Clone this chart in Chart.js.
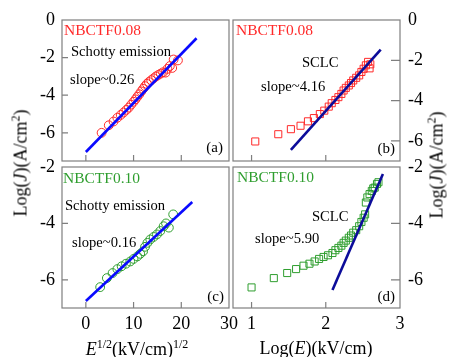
<!DOCTYPE html>
<html>
<head>
<meta charset="utf-8">
<script src="https://cdn.jsdelivr.net/npm/chart.js@4.4.0/dist/chart.umd.min.js"></script>
<style>
  body { margin: 0; background: #fff; }
  #wrap { position: relative; width: 449px; height: 357px; font-family: "Liberation Serif", serif; color: #000; }
  #wrap canvas { position: absolute; left: 0; top: 0; }
  .ttl { position: absolute; white-space: nowrap; font-size: 18px; transform: translate(-50%, -50%); }
  .rot { transform: translate(-50%, -50%) rotate(-90deg); }
  .ttl sup { font-size: 12px; vertical-align: 7px; line-height: 0; }
</style>
</head>
<body>
<div id="wrap">
  <canvas id="panelA" width="449" height="357"></canvas>
  <canvas id="panelB" width="449" height="357"></canvas>
  <canvas id="panelC" width="449" height="357"></canvas>
  <canvas id="panelD" width="449" height="357"></canvas>
  <div class="ttl rot" style="left:21px;top:163px">Log(<i>J</i>)(A/cm<sup>2</sup>)</div>
  <div class="ttl rot" style="left:437px;top:165px">Log(<i>J</i>)(A/cm<sup>2</sup>)</div>
  <div class="ttl" style="left:137px;top:349px"><i>E</i><sup>1/2</sup>(kV/cm)<sup>1/2</sup></div>
  <div class="ttl" style="left:316px;top:348px">Log(<i>E</i>)(kV/cm)</div>
</div>
<script>
// x = 0.08, Schottky plot: log J against E^1/2
const sqrtE08 = [3.3, 4.8, 5.8, 6.6, 7.3, 7.9, 8.5, 9.0, 9.5, 10.0, 10.4, 10.8, 11.2, 11.6, 12.0,
                 12.4, 12.8, 13.2, 13.7, 14.2, 14.7, 15.2, 15.7, 16.2, 16.7, 17.1, 17.6, 18.1, 18.4, 19.3];
const logJ08a = [-6.0, -5.6, -5.4, -5.2, -5.05, -4.92, -4.78, -4.66, -4.5, -4.35, -4.22, -4.08, -3.95, -3.8, -3.66,
                 -3.52, -3.4, -3.3, -3.2, -3.1, -3.0, -2.92, -2.85, -2.78, -2.8, -2.6, -2.45, -2.55, -2.1, -2.15];
const fit08aX = [0, 23.2];
const fit08aY = [-7.02, -0.97];

// x = 0.08, SCLC plot: log J against log E
const logE08 = [1.05, 1.36, 1.53, 1.66, 1.76, 1.84, 1.92, 1.98, 2.04, 2.08, 2.13, 2.17, 2.21,
                2.24, 2.27, 2.31, 2.34, 2.37, 2.41, 2.45, 2.48, 2.51, 2.54, 2.57, 2.59, 2.60];
const logJ08b = [-6.03, -5.67, -5.42, -5.25, -5.03, -4.87, -4.67, -4.5, -4.3, -4.13, -3.97, -3.83, -3.67,
                 -3.5, -3.37, -3.25, -3.13, -3.0, -2.87, -2.75, -2.58, -2.42, -2.25, -2.08, -2.4, -2.2];
const fit08bX = [1.53, 2.74];
const fit08bY = [-6.45, -1.47];

// x = 0.10, Schottky plot
const sqrtE10 = [3.0, 4.4, 5.6, 6.6, 7.5, 8.4, 9.3, 10.0, 10.8, 11.4, 12.0, 12.4, 12.9, 13.5, 14.2,
                 14.9, 15.6, 16.3, 16.8, 17.4, 18.3];
const logJ10c = [-6.26, -5.94, -5.76, -5.62, -5.52, -5.43, -5.35, -5.26, -5.17, -5.08, -4.99, -4.83, -4.69, -4.57, -4.48,
                 -4.39, -4.27, -4.1, -4.0, -4.15, -3.68];
const fit10cX = [0, 22.3];
const fit10cY = [-6.75, -3.24];

// x = 0.10, SCLC plot
const logE10 = [1.0, 1.30, 1.48, 1.60, 1.70, 1.78, 1.85, 1.91, 1.97, 2.03, 2.09, 2.13, 2.17, 2.21, 2.24, 2.27,
                2.31, 2.34, 2.37, 2.41, 2.45, 2.48, 2.51, 2.53, 2.54, 2.56, 2.59, 2.62, 2.64, 2.66, 2.69, 2.71];
const logJ10d = [-6.27, -5.94, -5.76, -5.62, -5.5, -5.43, -5.35, -5.26, -5.19, -5.13, -5.05, -4.95, -4.87, -4.79, -4.69, -4.61,
                 -4.51, -4.43, -4.33, -4.24, -4.1, -3.95, -3.8, -3.68, -3.26, -3.08, -2.96, -2.85, -2.76, -2.73, -2.6, -2.54];
const fit10dX = [2.09, 2.77];
const fit10dY = [-6.36, -2.25];

// axis ticks
const ticksSqrtE = [0, 10, 20, 30];
const ticksLogE = [1, 2, 3];
const ticksLogJTop = [0, -2, -4, -6];
const ticksLogJBottom = [-2, -4, -6];

const SERIF = '"Liberation Serif", "Times New Roman", serif';
const RED = '#ff2a2a';
const GREEN = '#2f9e2f';
const FRAME = '#7f7f7f';

// room kept for the tick labels next to each plot box
const Y_BOX = 55;
const X_BOX = 30;

function pts(xs, ys) {
    return xs.map((x, i) => ({ x: x, y: ys[i] }));
}

function makePanel(id, p) {
    const area = p.area;
    const tickFont = { family: SERIF, size: 18 };
    const xBox = p.showX ? X_BOX : 0;
    const pad = {
        left: p.ySide === 'left' ? area.l - Y_BOX : area.l,
        right: p.ySide === 'right' ? 449 - area.r - Y_BOX : 449 - area.r,
        top: area.t,
        bottom: 357 - area.b - xBox
    };

    // box around the plot plus short inward tick marks, and the text notes
    const decor = {
        id: 'decor_' + id,
        beforeDatasetsDraw(chart) {
            const { ctx, chartArea: a, scales } = chart;
            ctx.save();
            ctx.strokeStyle = FRAME;
            ctx.lineWidth = 1.2;
            ctx.strokeRect(a.left, a.top, a.width, a.height);
            ctx.beginPath();
            p.xTicks.forEach(v => {
                const px = scales.x.getPixelForValue(v);
                if (px > a.left + 1 && px < a.right - 1) {
                    ctx.moveTo(px, a.bottom);
                    ctx.lineTo(px, a.bottom - 6);
                }
            });
            p.yTicks.forEach(v => {
                const py = scales.y.getPixelForValue(v);
                if (py < a.top + 1 || py > a.bottom - 1) return;
                if (p.ySide === 'left') {
                    ctx.moveTo(a.left, py);
                    ctx.lineTo(a.left + 6, py);
                } else {
                    ctx.moveTo(a.right, py);
                    ctx.lineTo(a.right - 9, py);
                }
            });
            ctx.stroke();
            ctx.restore();
        },
        afterDraw(chart) {
            const { ctx, chartArea: a } = chart;
            ctx.save();
            ctx.textBaseline = 'middle';
            p.notes.forEach(n => {
                ctx.font = n.size + 'px ' + SERIF;
                ctx.fillStyle = n.color || '#000';
                ctx.textAlign = n.align || 'left';
                ctx.fillText(n.text, a.left + n.dx, a.top + n.dy);
            });
            ctx.restore();
        }
    };

    return new Chart(document.getElementById(id), {
        type: 'scatter',
        data: {
            datasets: [
                {
                    data: pts(p.fitX, p.fitY),
                    showLine: true,
                    borderColor: p.lineColor,
                    borderWidth: 2.6,
                    pointRadius: 0
                },
                {
                    data: pts(p.xs, p.ys),
                    pointStyle: p.marker,
                    pointRadius: p.marker === 'rect' ? 5 : 4.4,
                    borderWidth: 1,
                    borderColor: p.markerColor,
                    backgroundColor: 'rgba(0,0,0,0)'
                }
            ]
        },
        options: {
            responsive: false,
            animation: false,
            devicePixelRatio: 1,
            events: [],
            layout: { padding: pad },
            plugins: { legend: { display: false }, tooltip: { enabled: false } },
            scales: {
                x: {
                    type: 'linear',
                    min: p.xMin,
                    max: p.xMax,
                    grid: { display: false, drawTicks: false },
                    border: { display: false },
                    ticks: {
                        display: p.showX,
                        autoSkip: false,
                        maxRotation: 0,
                        padding: 5,
                        color: '#000',
                        font: tickFont,
                        callback: v => String(v)
                    },
                    afterBuildTicks: s => { s.ticks = p.xTicks.map(v => ({ value: v })); },
                    afterFit: s => { s.height = xBox; }
                },
                y: {
                    type: 'linear',
                    position: p.ySide,
                    min: p.yMin,
                    max: p.yMax,
                    grid: { display: false, drawTicks: false },
                    border: { display: false },
                    ticks: {
                        autoSkip: false,
                        padding: p.ySide === 'left' ? 7 : 8,
                        color: '#000',
                        font: tickFont,
                        callback: v => String(v)
                    },
                    afterBuildTicks: s => { s.ticks = p.yTicks.map(v => ({ value: v })); },
                    afterFit: s => { s.width = Y_BOX; }
                }
            }
        },
        plugins: [decor]
    });
}

makePanel('panelA', {
    area: { l: 62, t: 20, r: 229, b: 161 },
    xs: sqrtE08, ys: logJ08a, fitX: fit08aX, fitY: fit08aY,
    xMin: -5, xMax: 30, yMin: -7.5, yMax: 0,
    xTicks: ticksSqrtE, yTicks: ticksLogJTop, showX: false, ySide: 'left',
    marker: 'circle', markerColor: RED, lineColor: '#0a0aff',
    notes: [
        { text: 'NBCTF0.08', dx: 2, dy: 11, size: 15.5, color: RED },
        { text: 'Schotty emission', dx: 9, dy: 32, size: 14.6 },
        { text: 'slope~0.26', dx: 8, dy: 60, size: 14.6 },
        { text: '(a)', dx: 161, dy: 128, size: 15, align: 'right' }
    ]
});

makePanel('panelB', {
    area: { l: 233, t: 20, r: 400, b: 161 },
    xs: logE08, ys: logJ08b, fitX: fit08bX, fitY: fit08bY,
    xMin: 0.75, xMax: 3, yMin: -7, yMax: 0,
    xTicks: ticksLogE, yTicks: ticksLogJTop, showX: false, ySide: 'right',
    marker: 'rect', markerColor: RED, lineColor: '#0c0c9a',
    notes: [
        { text: 'NBCTF0.08', dx: 3, dy: 11, size: 15.5, color: RED },
        { text: 'SCLC', dx: 69, dy: 43, size: 14.6 },
        { text: 'slope~4.16', dx: 28, dy: 67, size: 14.6 },
        { text: '(b)', dx: 162, dy: 129, size: 15, align: 'right' }
    ]
});

makePanel('panelC', {
    area: { l: 62, t: 167, r: 229, b: 308 },
    xs: sqrtE10, ys: logJ10c, fitX: fit10cX, fitY: fit10cY,
    xMin: -5, xMax: 30, yMin: -7, yMax: -2,
    xTicks: ticksSqrtE, yTicks: ticksLogJBottom, showX: true, ySide: 'left',
    marker: 'circle', markerColor: GREEN, lineColor: '#0a0aff',
    notes: [
        { text: 'NBCTF0.10', dx: 1, dy: 12, size: 15.5, color: GREEN },
        { text: 'Schotty emission', dx: 3, dy: 39, size: 14.6 },
        { text: 'slope~0.16', dx: 10, dy: 76, size: 14.6 },
        { text: '(c)', dx: 162, dy: 130, size: 15, align: 'right' }
    ]
});

makePanel('panelD', {
    area: { l: 233, t: 167, r: 400, b: 308 },
    xs: logE10, ys: logJ10d, fitX: fit10dX, fitY: fit10dY,
    xMin: 0.75, xMax: 3, yMin: -7, yMax: -2,
    xTicks: ticksLogE, yTicks: ticksLogJBottom, showX: true, ySide: 'right',
    marker: 'rect', markerColor: GREEN, lineColor: '#0c0c9a',
    notes: [
        { text: 'NBCTF0.10', dx: 4, dy: 11, size: 15.5, color: GREEN },
        { text: 'SCLC', dx: 79, dy: 50, size: 14.6 },
        { text: 'slope~5.90', dx: 22, dy: 72, size: 14.6 },
        { text: '(d)', dx: 162, dy: 130, size: 15, align: 'right' }
    ]
});
</script>
</body>
</html>
